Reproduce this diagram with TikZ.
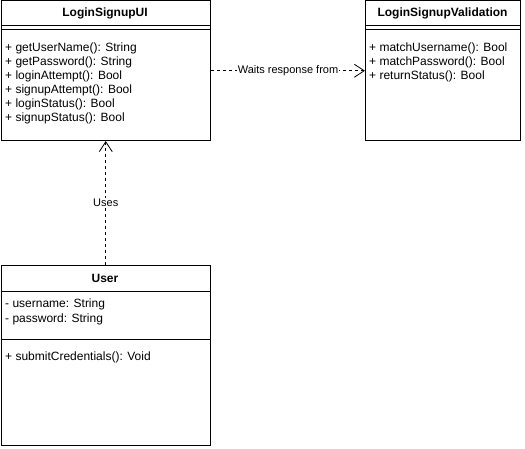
\documentclass[tikz,border=0pt]{standalone}
\usepackage{fontspec}
\setmainfont{Liberation Sans}
\usetikzlibrary{arrows.meta}

\begin{document}
\begin{tikzpicture}[x=1pt,y=-1pt]
    \tikzstyle{classbox}=[draw, line width=1pt, inner sep=0pt, anchor=north west]
    \tikzstyle{classname}=[font=\fontsize{12}{14}\selectfont\bfseries, inner sep=0pt]
    \tikzstyle{member}=[font=\fontsize{12}{14}\selectfont, anchor=west, inner sep=0pt]
    \tikzstyle{dep}=[dash pattern=on 3pt off 3pt, line width=0.8pt, -{Straight Barb[length=10pt,width=13pt]}]
    \tikzstyle{deplabel}=[fill=white, font=\fontsize{11}{13}\selectfont, inner sep=1pt]

    \useasboundingbox (0,0) rectangle (525,449);

    % LoginSignupUI
    \node[classbox, minimum width=209.5pt, minimum height=139.5pt] (ui) at (0.5,0.5) {};
    \node[classname] (uiname) at (105,13) {LoginSignupUI};
    \draw[line width=1pt] (0.5,26) -- (210,26);
    \draw[line width=1pt] (0.5,30) -- (210,30);
    \foreach \y/\t in {48/{+ getUserName(): String},62/{+ getPassword(): String},76/{+ loginAttempt(): Bool},90/{+ signupAttempt(): Bool},104/{+ loginStatus(): Bool},118/{+ signupStatus(): Bool}}
      {\node[member] (ui\y) at (5,\y) {\t};}

    % LoginSignupValidation
    \node[classbox, minimum width=155pt, minimum height=139.5pt] (val) at (365,0.5) {};
    \node[classname] (valname) at (442.5,13) {LoginSignupValidation};
    \draw[line width=1pt] (365,26) -- (520,26);
    \draw[line width=1pt] (365,30) -- (520,30);
    \foreach \y/\t in {48/{+ matchUsername(): Bool},62/{+ matchPassword(): Bool},76/{+ returnStatus(): Bool}}
      {\node[member] (val\y) at (369,\y) {\t};}

    % User
    \node[classbox, minimum width=209.5pt, minimum height=180pt] (user) at (0.5,265) {};
    \node[classname, font=\fontsize{12}{14}\selectfont\bfseries] (username) at (105,278) {User};
    \draw[line width=1pt] (0.5,292) -- (210,292);
    \draw[line width=1pt] (0.5,339) -- (210,339);
    \foreach \y/\t in {304/{- username: String},319/{- password: String},357/{+ submitCredentials(): Void}}
      {\node[member] (user\y) at (5,\y) {\t};}

    % dependencies
    \draw[dep] (ui.east) -- node[deplabel] (waits) {Waits response from} (val.west);
    \draw[dep] (user.north) -- node[deplabel] (uses) {Uses} (ui.south);
  \end{tikzpicture}
\end{document}
